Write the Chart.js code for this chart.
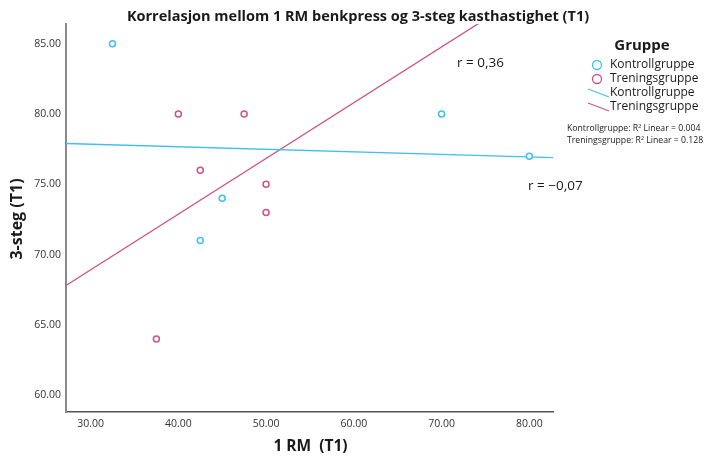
<!DOCTYPE html>
<html>
<head>
<meta charset="utf-8">
<script src="https://cdn.jsdelivr.net/npm/chart.js@4.4.1/dist/chart.umd.min.js"></script>
<style>
  html, body { margin: 0; padding: 0; background: #fff; }
  #wrap { width: 718px; height: 457px; }
</style>
</head>
<body>
<div id="wrap"><canvas id="scatterChart"></canvas></div>
<script>
// Data
const kontrollRM = [32.5, 45, 42.5, 70, 80];
const kontrollSteg = [85, 74, 71, 80, 77];
const treningRM = [40, 47.5, 42.5, 50, 50, 37.5];
const treningSteg = [80, 80, 76, 75, 73, 64];

// fit lines (end points at the axis limits)
const fitX = [27.2, 82.7];
const fitKontroll = [77.9, 76.9];
const fitTrening = [67.8, 89.8];

const xTicks = [30, 40, 50, 60, 70, 80];
const yTicks = [60, 65, 70, 75, 80, 85];

const groups = ['Kontrollgruppe', 'Treningsgruppe'];
const rLabels = ['r = \u22120,07', 'r = 0,36'];
const r2Labels = ['Kontrollgruppe: R\u00B2 Linear = 0.004', 'Treningsgruppe: R\u00B2 Linear = 0.128'];

const BLUE = '#3fc0f2';
const PINK = '#cf5283';
const FONT = '"Open Sans", "Liberation Sans", sans-serif';

const toPoints = (xs, ys) => xs.map((x, i) => ({ x: x, y: ys[i] }));

// Title, axis titles, legend and r labels
const annotations = {
    id: 'annotations',
    afterDraw(chart) {
        const ctx = chart.ctx;
        const area = chart.chartArea;
        ctx.save();
        ctx.fillStyle = '#1a1a1a';
        ctx.textBaseline = 'middle';

        ctx.font = 'bold 14.5px ' + FONT;
        ctx.textAlign = 'center';
        ctx.fillText('Korrelasjon mellom 1 RM benkpress og 3-steg kasthastighet (T1)', 358, 17);

        ctx.font = 'bold 15.5px ' + FONT;
        ctx.fillText('1 RM  (T1)', (area.left + area.right) / 2 + 1, 447);
        ctx.save();
        ctx.font = 'bold 16px ' + FONT;
        ctx.translate(17, (area.top + area.bottom) / 2 + 1);
        ctx.rotate(-Math.PI / 2);
        ctx.fillText('3-steg (T1)', 0, 0);
        ctx.restore();

        // r labels
        ctx.font = '13.5px ' + FONT;
        ctx.textAlign = 'left';
        ctx.fillText(rLabels[1], 457, 63);
        ctx.fillText(rLabels[0], 528, 186);

        // legend
        ctx.font = 'bold 15px ' + FONT;
        ctx.textAlign = 'center';
        ctx.fillText('Gruppe', 642, 46);
        ctx.font = '12px ' + FONT;
        ctx.textAlign = 'left';
        const colors = [BLUE, PINK];
        groups.forEach((g, i) => {
            const ly = 65 + i * 14;
            ctx.strokeStyle = colors[i];
            ctx.lineWidth = 1.3;
            ctx.beginPath();
            ctx.arc(597, ly, 4.5, 0, Math.PI * 2);
            ctx.stroke();
            ctx.fillText(g, 610, ly);
        });
        groups.forEach((g, i) => {
            const ly = 93 + i * 14;
            ctx.strokeStyle = colors[i];
            ctx.lineWidth = 1.2;
            ctx.beginPath();
            ctx.moveTo(588, ly - 4);
            ctx.lineTo(609, ly + 4);
            ctx.stroke();
            ctx.fillText(g, 610, ly);
        });
        ctx.font = '8.7px ' + FONT;
        r2Labels.forEach((t, i) => {
            ctx.fillText(t, 567, 129 + i * 12);
        });
        ctx.restore();
    }
};

new Chart(document.getElementById('scatterChart'), {
    type: 'scatter',
    data: {
        datasets: [
            {
                label: groups[0],
                data: toPoints(kontrollRM, kontrollSteg),
                borderColor: BLUE,
                backgroundColor: '#fff',
                pointRadius: 3,
                borderWidth: 1.5
            },
            {
                label: groups[1],
                data: toPoints(treningRM, treningSteg),
                borderColor: PINK,
                backgroundColor: '#fff',
                pointRadius: 3,
                borderWidth: 1.5
            },
            {
                label: groups[0] + ' fit',
                data: toPoints(fitX, fitKontroll),
                showLine: true,
                borderColor: BLUE,
                borderWidth: 1.3,
                pointRadius: 0,
                order: 5
            },
            {
                label: groups[1] + ' fit',
                data: toPoints(fitX, fitTrening),
                showLine: true,
                borderColor: PINK,
                borderWidth: 1.3,
                pointRadius: 0,
                order: 5
            }
        ]
    },
    options: {
        responsive: true,
        maintainAspectRatio: false,
        animation: false,
        layout: {
            padding: { top: 24, right: 165, left: 0, bottom: 0 }
        },
        plugins: {
            legend: { display: false },
            tooltip: { enabled: false }
        },
        scales: {
            x: {
                type: 'linear',
                min: 27.2,
                max: 82.7,
                afterBuildTicks: (scale) => { scale.ticks = xTicks.map(v => ({ value: v })); },
                afterFit: (scale) => { scale.height = 45; },
                grid: { display: false, drawTicks: false },
                border: { color: '#555', width: 1.5 },
                ticks: {
                    padding: 6,
                    color: '#333',
                    font: { family: FONT, size: 10.5 },
                    callback: (v) => v.toFixed(2)
                }
            },
            y: {
                type: 'linear',
                min: 58.8,
                max: 86.4,
                afterBuildTicks: (scale) => { scale.ticks = yTicks.map(v => ({ value: v })); },
                afterFit: (scale) => { scale.width = 66; },
                grid: { display: false, drawTicks: false },
                border: { color: '#888', width: 2 },
                ticks: {
                    padding: 5,
                    color: '#333',
                    font: { family: FONT, size: 10.5 },
                    callback: (v) => v.toFixed(2)
                }
            }
        }
    },
    plugins: [annotations]
});
</script>
</body>
</html>
